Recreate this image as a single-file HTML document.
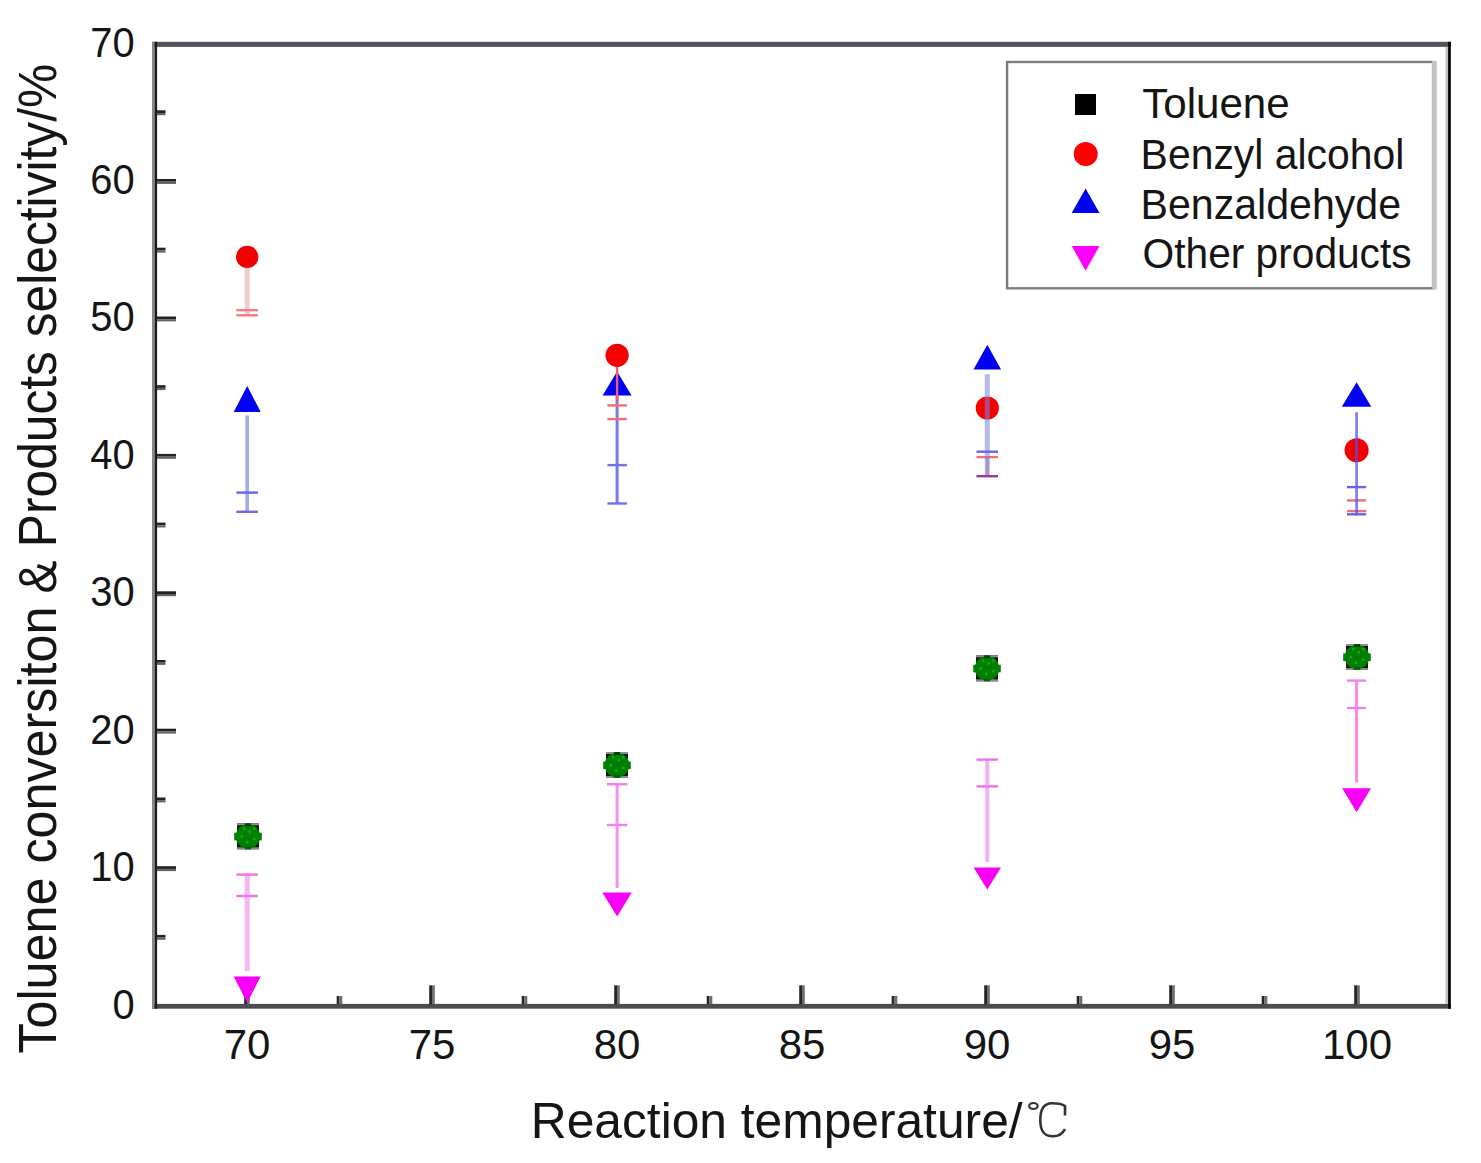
<!DOCTYPE html>
<html><head><meta charset="utf-8">
<style>
html,body{margin:0;padding:0;background:#fff;}
body{width:1481px;height:1163px;overflow:hidden;position:relative;}
svg{position:absolute;left:0;top:0;}
text{font-family:"Liberation Sans",sans-serif;fill:#151515;}
</style></head>
<body>
<svg width="1481" height="1163" viewBox="0 0 1481 1163">
<g id="frame">
<rect x="152" y="41.8" width="1299" height="5.1" fill="#56505a"/>
<rect x="152" y="1003.9" width="1299" height="4.8" fill="#4e4a50"/>
<rect x="152" y="41.8" width="2.6" height="966.9" fill="#8a868c"/>
<rect x="154.6" y="41.8" width="2.5" height="966.9" fill="#1c1c1c"/>
<rect x="1445.5" y="46.9" width="2.6" height="957" fill="#c4bcc8"/>
<rect x="1448.1" y="41.8" width="2.7" height="966.9" fill="#000"/>
</g>
<g id="ticks">
<rect x="244.2" y="985.3" width="2.8" height="19" fill="#222828"/>
<rect x="247.0" y="985.3" width="2.8" height="19" fill="#6c706c"/>
<rect x="429.2" y="985.3" width="2.8" height="19" fill="#222828"/>
<rect x="432.0" y="985.3" width="2.8" height="19" fill="#6c706c"/>
<rect x="614.2" y="985.3" width="2.8" height="19" fill="#222828"/>
<rect x="617.0" y="985.3" width="2.8" height="19" fill="#6c706c"/>
<rect x="799.2" y="985.3" width="2.8" height="19" fill="#222828"/>
<rect x="802.0" y="985.3" width="2.8" height="19" fill="#6c706c"/>
<rect x="984.2" y="985.3" width="2.8" height="19" fill="#222828"/>
<rect x="987.0" y="985.3" width="2.8" height="19" fill="#6c706c"/>
<rect x="1169.2" y="985.3" width="2.8" height="19" fill="#222828"/>
<rect x="1172.0" y="985.3" width="2.8" height="19" fill="#6c706c"/>
<rect x="1354.2" y="985.3" width="2.8" height="19" fill="#222828"/>
<rect x="1357.0" y="985.3" width="2.8" height="19" fill="#6c706c"/>
<rect x="336.7" y="996" width="2.8" height="8" fill="#222828"/>
<rect x="339.5" y="996" width="2.8" height="8" fill="#6c706c"/>
<rect x="521.7" y="996" width="2.8" height="8" fill="#222828"/>
<rect x="524.5" y="996" width="2.8" height="8" fill="#6c706c"/>
<rect x="706.7" y="996" width="2.8" height="8" fill="#222828"/>
<rect x="709.5" y="996" width="2.8" height="8" fill="#6c706c"/>
<rect x="891.7" y="996" width="2.8" height="8" fill="#222828"/>
<rect x="894.5" y="996" width="2.8" height="8" fill="#6c706c"/>
<rect x="1076.7" y="996" width="2.8" height="8" fill="#222828"/>
<rect x="1079.5" y="996" width="2.8" height="8" fill="#6c706c"/>
<rect x="1261.7" y="996" width="2.8" height="8" fill="#222828"/>
<rect x="1264.5" y="996" width="2.8" height="8" fill="#6c706c"/>
<rect x="157" y="866.2" width="19" height="2.7" fill="#222"/>
<rect x="157" y="868.9" width="19" height="2.2" fill="#64645c"/>
<rect x="157" y="728.7" width="19" height="2.7" fill="#222"/>
<rect x="157" y="731.4" width="19" height="2.2" fill="#64645c"/>
<rect x="157" y="591.3" width="19" height="2.7" fill="#222"/>
<rect x="157" y="594.0" width="19" height="2.2" fill="#64645c"/>
<rect x="157" y="453.9" width="19" height="2.7" fill="#222"/>
<rect x="157" y="456.6" width="19" height="2.2" fill="#64645c"/>
<rect x="157" y="316.5" width="19" height="2.7" fill="#222"/>
<rect x="157" y="319.2" width="19" height="2.2" fill="#64645c"/>
<rect x="157" y="179.0" width="19" height="2.7" fill="#222"/>
<rect x="157" y="181.7" width="19" height="2.2" fill="#64645c"/>
<rect x="157" y="934.9" width="8.5" height="2.7" fill="#222"/>
<rect x="157" y="937.6" width="8.5" height="2.2" fill="#64645c"/>
<rect x="157" y="797.5" width="8.5" height="2.7" fill="#222"/>
<rect x="157" y="800.2" width="8.5" height="2.2" fill="#64645c"/>
<rect x="157" y="660.0" width="8.5" height="2.7" fill="#222"/>
<rect x="157" y="662.7" width="8.5" height="2.2" fill="#64645c"/>
<rect x="157" y="522.6" width="8.5" height="2.7" fill="#222"/>
<rect x="157" y="525.3" width="8.5" height="2.2" fill="#64645c"/>
<rect x="157" y="385.2" width="8.5" height="2.7" fill="#222"/>
<rect x="157" y="387.9" width="8.5" height="2.2" fill="#64645c"/>
<rect x="157" y="247.7" width="8.5" height="2.7" fill="#222"/>
<rect x="157" y="250.4" width="8.5" height="2.2" fill="#64645c"/>
<rect x="157" y="110.3" width="8.5" height="2.7" fill="#222"/>
<rect x="157" y="113.0" width="8.5" height="2.2" fill="#64645c"/>
</g>
<g id="ylabels" font-size="42" text-anchor="end">
<text x="134.6" y="1018.5" textLength="22.19" lengthAdjust="spacingAndGlyphs">0</text>
<text x="134.6" y="881.1" textLength="44.38" lengthAdjust="spacingAndGlyphs">10</text>
<text x="134.6" y="743.6" textLength="44.38" lengthAdjust="spacingAndGlyphs">20</text>
<text x="134.6" y="606.2" textLength="44.38" lengthAdjust="spacingAndGlyphs">30</text>
<text x="134.6" y="468.8" textLength="44.38" lengthAdjust="spacingAndGlyphs">40</text>
<text x="134.6" y="331.4" textLength="44.38" lengthAdjust="spacingAndGlyphs">50</text>
<text x="134.6" y="193.9" textLength="44.38" lengthAdjust="spacingAndGlyphs">60</text>
<text x="134.6" y="56.5" textLength="44.38" lengthAdjust="spacingAndGlyphs">70</text>
</g>
<g id="xlabels" font-size="42" text-anchor="middle">
<text x="247.0" y="1058.5">70</text>
<text x="432.0" y="1058.5">75</text>
<text x="617.0" y="1058.5">80</text>
<text x="802.0" y="1058.5">85</text>
<text x="987.0" y="1058.5">90</text>
<text x="1172.0" y="1058.5">95</text>
<text x="1357.0" y="1058.5">100</text>
</g>
<text id="xtitle" x="530.8" y="1138" font-size="49.4" textLength="491.8" lengthAdjust="spacingAndGlyphs">Reaction temperature/</text>
<g id="degc" fill="none" stroke="#333" stroke-width="2"><ellipse cx="1033.4" cy="1106" rx="4.2" ry="3" stroke-width="2.2"/><path d="M1065 1115.5 L1065 1106 C1062 1103.8 1057 1103.3 1052 1103.3 C1044.5 1103.3 1040.3 1108 1040.3 1120 C1040.3 1132 1044.5 1136.3 1053 1136.3 C1059 1136.3 1062.5 1134 1065 1129" stroke-width="2.6"/></g>
<g id="ytitle" font-size="54">
<text transform="translate(55.8,1053.7) rotate(-90)" textLength="447.2" lengthAdjust="spacingAndGlyphs">Toluene conversiton</text>
<text transform="translate(55.8,593.5) rotate(-90)" textLength="33.1" lengthAdjust="spacingAndGlyphs">&amp;</text>
<text transform="translate(55.8,547.2) rotate(-90)" textLength="483.4" lengthAdjust="spacingAndGlyphs">Products selectivity/%</text>
</g>
<g id="legend">
<rect x="1007.1" y="62" width="426" height="226.3" fill="none" stroke="#7a7e7a" stroke-width="2.4"/>
<rect x="1432.1" y="61" width="4.7" height="228.5" fill="#c4c4c4"/>
<rect x="1075" y="94" width="21" height="21" fill="#000"/>
<circle cx="1085.7" cy="154" r="12" fill="#f00"/>
<polygon points="1085.6,188.5 1099.5,213 1071.7,213" fill="#0000f0"/>
<polygon points="1071.7,246 1099.5,246 1085.6,270.8" fill="#f0f"/>
<g font-size="42">
<text x="1142.2" y="118" textLength="147.5" lengthAdjust="spacingAndGlyphs">Toluene</text>
<text x="1140.6" y="168.6" textLength="263.8" lengthAdjust="spacingAndGlyphs">Benzyl alcohol</text>
<text x="1140.6" y="218.6" textLength="260.5" lengthAdjust="spacingAndGlyphs">Benzaldehyde</text>
<text x="1142.6" y="268" textLength="269.0" lengthAdjust="spacingAndGlyphs">Other products</text>
</g></g>
<g id="data">
<rect x="244.7" y="267.0" width="5" height="49.0" fill="#f4cccc"/><rect x="236.4" y="309.0" width="21.5" height="2.4" fill="#f08080"/><rect x="236.4" y="314.1" width="21.5" height="2.4" fill="#f08080"/>
<circle cx="247.2" cy="256.9" r="11.2" fill="#f20000"/>
<rect x="245.4" y="415.5" width="3.6" height="96.9" fill="#a4aae8"/><rect x="236.4" y="491.4" width="21.5" height="2.4" fill="#6868e4"/><rect x="236.4" y="510.6" width="21.5" height="2.4" fill="#6868e4"/>
<polygon points="247.2,386.0 260.7,411.9 233.7,411.9" fill="#0000f2"/>
<rect x="244.7" y="873.0" width="5" height="98.0" fill="#f4b8f4"/><rect x="236.4" y="873.4" width="21.5" height="2.4" fill="#f070f0"/><rect x="236.4" y="894.8" width="21.5" height="2.4" fill="#f070f0"/>
<polygon points="233.7,976.6 260.7,976.6 247.2,1002.7" fill="#f800f8"/>
<rect x="237.0" y="823.3" width="22" height="26" fill="#141414"/><rect x="237.0" y="823.3" width="22" height="2" fill="#909090"/><rect x="237.0" y="847.3" width="22" height="2" fill="#8a8a8a"/><circle cx="248.0" cy="836.3" r="12.3" fill="#008000"/><rect x="234.2" y="832.8" width="27.6" height="7.5" fill="#008000"/><rect x="245.0" y="823.3" width="6" height="3" fill="#0a400a"/><rect x="245.0" y="846.3" width="6" height="3" fill="#0a600a"/><g fill="#1aa31a"><rect x="243.0" y="827.3" width="2.5" height="2.5"/><rect x="253.0" y="827.3" width="2.5" height="2.5"/><rect x="248.5" y="830.3" width="2.5" height="2.5"/><rect x="240.5" y="835.3" width="2.5" height="2.5"/><rect x="253.0" y="837.8" width="2.5" height="2.5"/><rect x="246.0" y="840.8" width="2.5" height="2.5"/></g>
<rect x="615.6" y="395.5" width="3" height="108.5" fill="#7878f0"/><rect x="607.4" y="463.9" width="19.5" height="2.4" fill="#7070f0"/><rect x="607.4" y="502.3" width="19.5" height="2.4" fill="#7070f0"/>
<polygon points="617.1,371.6 631.6,395.5 602.6,395.5" fill="#0000f2"/>
<rect x="615.9" y="366.0" width="2.4" height="36.0" fill="#f06070"/><rect x="607.4" y="404.2" width="19.5" height="2.4" fill="#f07070"/><rect x="607.4" y="417.9" width="19.5" height="2.4" fill="#f07070"/>
<circle cx="617.1" cy="355.3" r="11.6" fill="#f40000"/>
<rect x="615.6" y="784.0" width="3" height="104.0" fill="#f890f0"/><rect x="606.9" y="783.0" width="20.5" height="2.4" fill="#f080f0"/><rect x="606.9" y="823.8" width="20.5" height="2.4" fill="#f080f0"/>
<polygon points="602.4,892.6 631.8,892.6 617.1,916.4" fill="#f800f8"/>
<rect x="606.0" y="752.0" width="22" height="26" fill="#141414"/><rect x="606.0" y="752.0" width="22" height="2" fill="#909090"/><rect x="606.0" y="776.0" width="22" height="2" fill="#8a8a8a"/><circle cx="617.0" cy="765.0" r="12.3" fill="#008000"/><rect x="603.2" y="761.5" width="27.6" height="7.5" fill="#008000"/><rect x="614.0" y="752.0" width="6" height="3" fill="#0a400a"/><rect x="614.0" y="775.0" width="6" height="3" fill="#0a600a"/><g fill="#1aa31a"><rect x="612.0" y="756.0" width="2.5" height="2.5"/><rect x="622.0" y="756.0" width="2.5" height="2.5"/><rect x="617.5" y="759.0" width="2.5" height="2.5"/><rect x="609.5" y="764.0" width="2.5" height="2.5"/><rect x="622.0" y="766.5" width="2.5" height="2.5"/><rect x="615.0" y="769.5" width="2.5" height="2.5"/></g>
<circle cx="987.3" cy="408" r="11.6" fill="#f40000"/>
<rect x="985.8" y="457.1" width="3" height="19.1" fill="#f4a0a0"/><rect x="976.5" y="455.9" width="21.5" height="2.4" fill="#f07070"/>
<rect x="984.8" y="374.2" width="5" height="102.8" fill="rgba(120,130,230,0.55)"/><rect x="976.5" y="450.5" width="21.5" height="2.4" fill="#6868e8"/>
<rect x="987.3" y="476.2" width="0" height="0.0" fill="#000"/><rect x="976.5" y="475.0" width="21.5" height="2.4" fill="#9838a0"/>
<polygon points="987.3,344.8 1001.1,369.4 973.5,369.4" fill="#0000f2"/>
<rect x="985.3" y="759.4" width="4" height="102.6" fill="#f4b0f4"/><rect x="976.5" y="758.4" width="21.5" height="2.4" fill="#f070f0"/><rect x="976.5" y="785.2" width="21.5" height="2.4" fill="#f070f0"/>
<polygon points="973.6,867.4 1001.0,867.4 987.3,889.4" fill="#f800f8"/>
<rect x="976.0" y="655.3" width="22" height="26" fill="#141414"/><rect x="976.0" y="655.3" width="22" height="2" fill="#909090"/><rect x="976.0" y="679.3" width="22" height="2" fill="#8a8a8a"/><circle cx="987.0" cy="668.3" r="12.3" fill="#008000"/><rect x="973.2" y="664.8" width="27.6" height="7.5" fill="#008000"/><rect x="984.0" y="655.3" width="6" height="3" fill="#0a400a"/><rect x="984.0" y="678.3" width="6" height="3" fill="#0a600a"/><g fill="#1aa31a"><rect x="982.0" y="659.3" width="2.5" height="2.5"/><rect x="992.0" y="659.3" width="2.5" height="2.5"/><rect x="987.5" y="662.3" width="2.5" height="2.5"/><rect x="979.5" y="667.3" width="2.5" height="2.5"/><rect x="992.0" y="669.8" width="2.5" height="2.5"/><rect x="985.0" y="672.8" width="2.5" height="2.5"/></g>
<rect x="1356.6" y="462.0" width="0" height="49.0" fill="#f08080"/><rect x="1347.0" y="499.2" width="19.2" height="2.4" fill="#f07070"/><rect x="1347.0" y="509.9" width="19.2" height="2.4" fill="#f07070"/>
<circle cx="1356.6" cy="450.3" r="12" fill="#f40000"/>
<rect x="1355.2" y="412.3" width="2.8" height="103.2" fill="rgba(80,80,240,0.72)"/><rect x="1347.0" y="485.9" width="19.2" height="2.4" fill="#6464e8"/><rect x="1347.0" y="513.1" width="19.2" height="2.4" fill="#6464e8"/>
<polygon points="1356.6,382.3 1371.3,406.8 1341.8,406.8" fill="#0000f2"/>
<rect x="1355.1" y="680.6" width="3" height="102.0" fill="#f888f0"/><rect x="1347.1" y="679.4" width="19" height="2.4" fill="#f080f0"/><rect x="1347.1" y="706.8" width="19" height="2.4" fill="#f080f0"/>
<polygon points="1342.2,788.3 1371.0,788.3 1356.6,812.2" fill="#f800f8"/>
<rect x="1346.0" y="644.0" width="22" height="26" fill="#141414"/><rect x="1346.0" y="644.0" width="22" height="2" fill="#909090"/><rect x="1346.0" y="668.0" width="22" height="2" fill="#8a8a8a"/><circle cx="1357.0" cy="657.0" r="12.3" fill="#008000"/><rect x="1343.2" y="653.5" width="27.6" height="7.5" fill="#008000"/><rect x="1354.0" y="644.0" width="6" height="3" fill="#0a400a"/><rect x="1354.0" y="667.0" width="6" height="3" fill="#0a600a"/><g fill="#1aa31a"><rect x="1352.0" y="648.0" width="2.5" height="2.5"/><rect x="1362.0" y="648.0" width="2.5" height="2.5"/><rect x="1357.5" y="651.0" width="2.5" height="2.5"/><rect x="1349.5" y="656.0" width="2.5" height="2.5"/><rect x="1362.0" y="658.5" width="2.5" height="2.5"/><rect x="1355.0" y="661.5" width="2.5" height="2.5"/></g>
</g>
</svg>
</body></html>
